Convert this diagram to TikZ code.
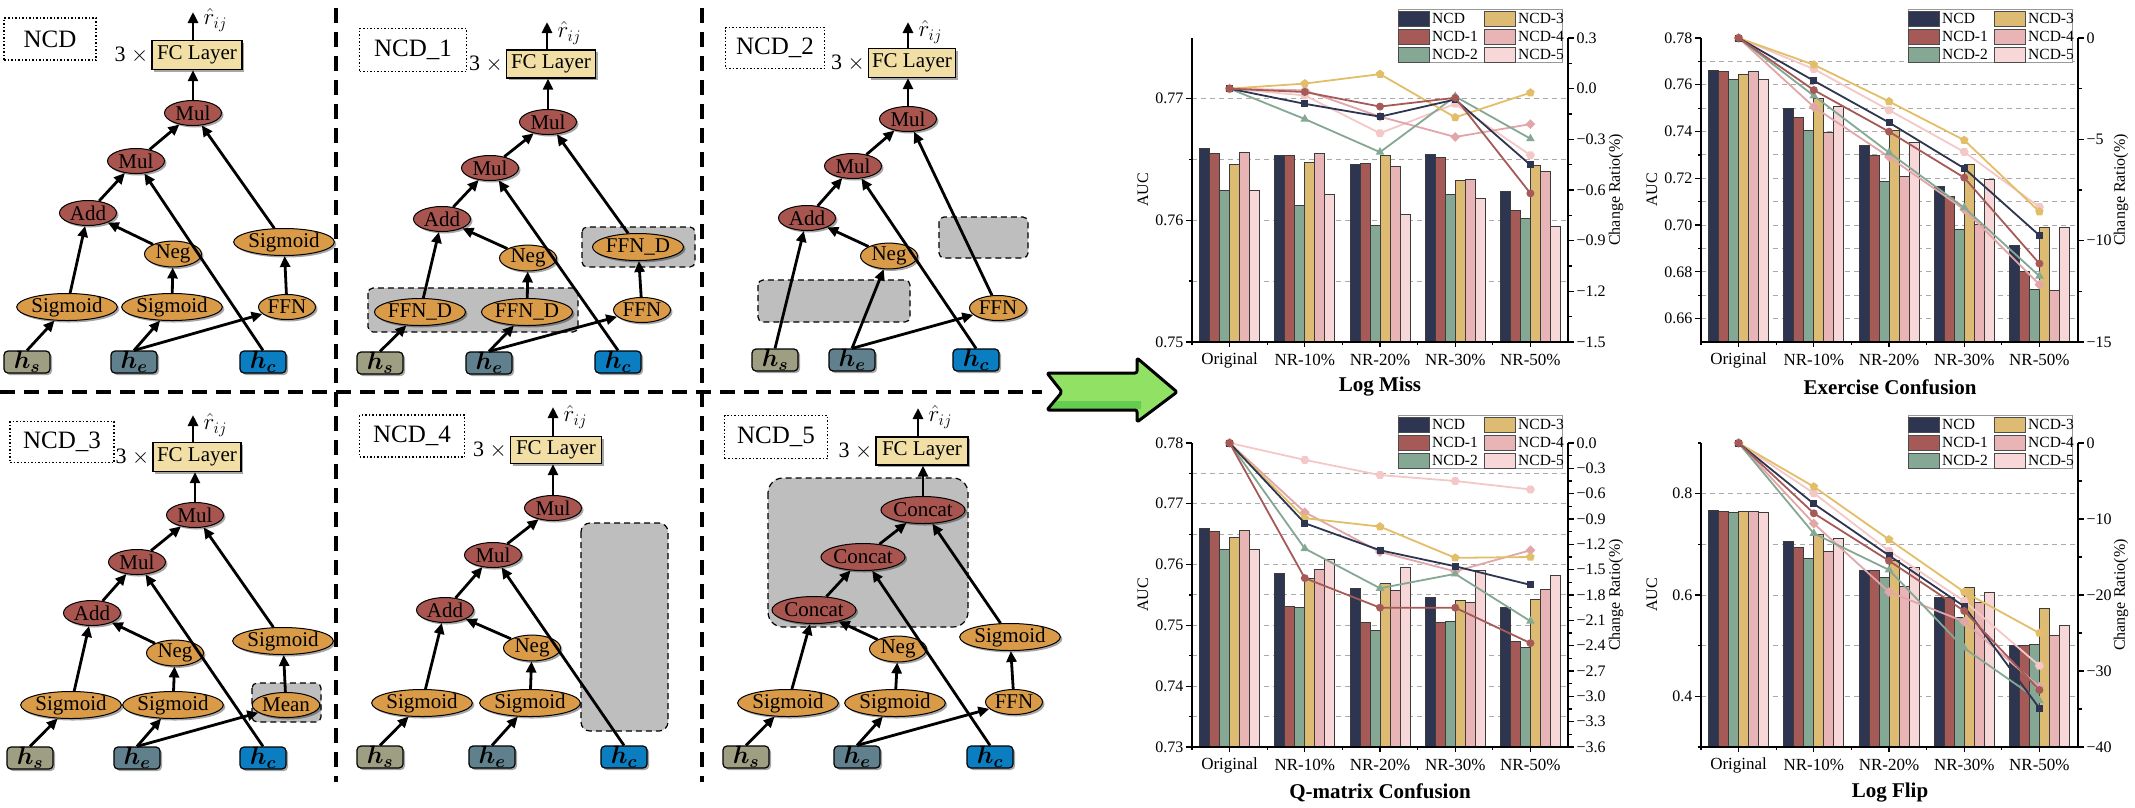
\RequirePackage{fix-cm}
\documentclass[tikz,border=0pt]{standalone}
\usepackage{fontspec}
\setmainfont{Liberation Serif}
\usepackage{bm}
\usetikzlibrary{shapes.geometric,arrows.meta,shadows}
\newcommand\fsz[1]{\fontsize{#1}{#1}\selectfont}
\definecolor{opred}{RGB}{168,85,79}
\definecolor{opor}{RGB}{217,155,72}
\definecolor{fcfill}{RGB}{241,223,165}
\definecolor{hsfill}{RGB}{158,158,130}
\definecolor{hefill}{RGB}{95,128,140}
\definecolor{hcfill}{RGB}{11,125,193}
\definecolor{gbox}{RGB}{190,190,190}
\definecolor{barc0}{RGB}{45,53,80}
\definecolor{barc1}{RGB}{165,90,87}
\definecolor{barc2}{RGB}{132,168,148}
\definecolor{barc3}{RGB}{221,187,115}
\definecolor{barc4}{RGB}{232,180,181}
\definecolor{barc5}{RGB}{247,215,215}
\definecolor{lnc3}{RGB}{227,190,105}
\definecolor{lnc4}{RGB}{226,166,170}
\definecolor{lnc5}{RGB}{245,200,200}
\definecolor{barline}{RGB}{60,60,60}
\definecolor{arrowgreen}{RGB}{145,226,100}
\definecolor{arrowdark}{RGB}{100,205,80}
\definecolor{gridgray}{RGB}{170,170,170}
\tikzset{
  shd/.style={drop shadow={shadow xshift=2pt, shadow yshift=-2pt, opacity=0.35, fill=black}},
  op/.style={ellipse, draw=black, line width=1pt, inner sep=0pt, minimum height=25pt, font=\fsz{21}, shd},
  redop/.style={op, fill=opred, minimum width=57pt},
  orop/.style={op, fill=opor, minimum width=57pt},
  wideop/.style={op, fill=opor, minimum width=91pt, minimum height=27pt},
  catop/.style={op, fill=opred, minimum width=67pt, minimum height=27pt},
  fcbox/.style={rectangle, draw=black, line width=1.3pt, fill=fcfill, minimum width=89pt, minimum height=28pt, inner sep=0pt, font=\fsz{21}, shd},
  hbox/.style={rectangle, rounded corners=4pt, draw=black, line width=1.2pt, minimum width=46pt, minimum height=22pt, inner sep=0pt, font=\fsz{25}, shd},
  hsb/.style={hbox, fill=hsfill},
  heb/.style={hbox, fill=hefill},
  hcb/.style={hbox, fill=hcfill},
  lblbox/.style={rectangle, draw=black, dotted, line width=1.5pt, inner sep=0pt, font=\fsz{25}},
  threex/.style={anchor=east, font=\fsz{22}, inner sep=3pt},
  rij/.style={font=\fsz{23}, anchor=west},
  flow/.style={line width=2.8pt, -{Triangle[length=11pt,width=10pt]}},
  gray region/.style={fill=gbox, draw=black, dash pattern=on 6pt off 4pt, line width=1.2pt, rounded corners=5pt},
  sep/.style={line width=4pt, dash pattern=on 15pt off 9pt},
  gridln/.style={draw=gridgray, line width=1pt, dash pattern=on 5pt off 4pt},
  axisln/.style={line width=1.2pt, draw=black},
  ticklab/.style={font=\fsz{16}, inner sep=2pt},
  catlab/.style={font=\fsz{17}},
  ttl/.style={font=\fsz{21}\bfseries},
  axlab/.style={font=\fsz{16}, rotate=90},
  legtext/.style={font=\fsz{15.5}, inner sep=0pt, anchor=west},
  mksq/.style={rectangle, inner sep=0pt, minimum size=7pt},
  mkci/.style={circle, inner sep=0pt, minimum size=8pt},
  mktri/.style={regular polygon, regular polygon sides=3, inner sep=0pt, minimum size=10pt},
  mkdia/.style={diamond, inner sep=0pt, minimum size=10pt},
  mkpent/.style={regular polygon, regular polygon sides=5, inner sep=0pt, minimum size=9pt},
  mkhex/.style={regular polygon, regular polygon sides=6, inner sep=0pt, minimum size=9pt},
}
\newcommand\drawbars[2]{%
  \foreach \v [count=\i from 0] in {#2} {%
    \pgfmathtruncatemacro\grp{div(\i,6)}%
    \pgfmathtruncatemacro\bnum{mod(\i,6)}%
    \filldraw[fill=barc\bnum, draw=barline, line width=0.7pt] ({cx(\grp)-30+10*\bnum},{by(\v)}) rectangle ({cx(\grp)-20+10*\bnum},#1);
  }}
\newcommand\ncdline[6]{%
  \draw[line width=1.8pt, draw=#1] ({cx(0)},{ry(0)}) -- ({cx(1)},{ry(#3)}) -- ({cx(2)},{ry(#4)}) -- ({cx(3)},{ry(#5)}) -- ({cx(4)},{ry(#6)});
  \foreach \rr [count=\k from 0] in {0,#3,#4,#5,#6} \node[#2, fill=#1] at ({cx(\k)},{ry(\rr)}) {};
}
\newcommand\ncdlegend[2]{%
  \draw[fill=white, draw=gray!80, line width=0.8pt] (#1,#2) rectangle ++(164,53);
  \foreach \nm/\ci/\col/\row in {NCD/0/0/0, NCD-1/1/0/1, NCD-2/2/0/2, NCD-3/3/1/0, NCD-4/4/1/1, NCD-5/5/1/2} {%
    \filldraw[fill=barc\ci, draw=black!70, line width=0.8pt] ({#1+86*\col},{#2+2+18*\row}) rectangle ++(31,15);
    \node[legtext] at ({#1+34+86*\col},{#2+9.5+18*\row}) {\nm};
  }}
\newcommand\xcats[1]{%
  \foreach \lab [count=\k from 0] in {Original,NR-10\%,NR-20\%,NR-30\%,NR-50\%} {%
    \draw[axisln] ({cx(\k)},#1) -- ++(0,5);
    \draw[axisln] ({cx(\k)-37.6},#1) -- ++(0,3);
    \node[catlab] at ({cx(\k)},{#1+18}) {\lab};
  }}
\begin{document}
\begin{tikzpicture}[x=1pt,y=-1pt]
\useasboundingbox (0,0) rectangle (2135,807);
\fill[white] (0,0) rectangle (2135,807);

% ---------------- separators ----------------
\draw[sep] (336,8) -- (336,782);
\draw[sep] (702,8) -- (702,782);
\draw[sep] (0,392) -- (1042,392);

% ---------------- gray regions ----------------
\path[gray region] (368,288) rectangle (578,332);
\path[gray region] (582,227) rectangle (695,267);
\path[gray region] (758,280) rectangle (910,322);
\path[gray region] (939,217) rectangle (1028,258);
\path[gray region] (252,683) rectangle (321,722);
\path[gray region, rounded corners=9pt] (581,523) rectangle (668,731);
\path[gray region, rounded corners=15pt] (768,478) rectangle (968,627);

% ---------------- Panel NCD ----------------
\node[lblbox, minimum width=92pt, minimum height=42pt] (lblA) at (50,39) {NCD};
\node[fcbox, minimum width=90pt, minimum height=29pt] (fcA) at (197,55) {FC Layer};
\node[threex] (txA) at (fcA.west) {3 $\times$};
\coordinate (oA) at (193,12);
\node[rij] (rA) at (200,20) {$\hat{r}_{ij}$};
\node[redop] (m1A) at (193,113) {Mul};
\node[redop] (m2A) at (136,161) {Mul};
\node[redop] (adA) at (88,213) {Add};
\node[orop] (ngA) at (173,254) {Neg};
\node[wideop] (srA) at (284,242) {Sigmoid};
\node[wideop] (slA) at (67,307) {Sigmoid};
\node[wideop] (smA) at (172,307) {Sigmoid};
\node[orop] (ffA) at (287,307) {FFN};
\node[hsb] (hsA) at (27,362) {$\bm{h_s}$};
\node[heb] (heA) at (134,362) {$\bm{h_e}$};
\node[hcb] (hcA) at (263,362) {$\bm{h_c}$};
\draw[flow] (hsA.north) -- (slA);
\draw[flow] (heA.north) -- (smA);
\draw[flow] (heA.north) -- (ffA);
\draw[flow] (hcA.north) -- (m2A);
\draw[flow] (slA) -- (adA);
\draw[flow] (smA) -- (ngA);
\draw[flow] (ngA) -- (adA);
\draw[flow] (adA) -- (m2A);
\draw[flow] (m2A) -- (m1A);
\draw[flow] (ffA) -- (srA);
\draw[flow] (srA) -- (m1A);
\draw[flow] (m1A.north) -- (m1A.north |- fcA.south);
\draw[flow] (fcA.north -| oA) -- (oA);

% ---------------- Panel NCD_1 ----------------
\node[lblbox, minimum width=107pt, minimum height=43pt] (lblB) at (413,50) {NCD\_1};
\node[fcbox] (fcB) at (551,64) {FC Layer};
\node[threex] (txB) at (fcB.west) {3 $\times$};
\coordinate (oB) at (547,22);
\node[rij] (rB) at (554,33) {$\hat{r}_{ij}$};
\node[redop] (m1B) at (548,122) {Mul};
\node[redop] (m2B) at (490,168) {Mul};
\node[redop] (adB) at (442,219) {Add};
\node[orop] (ngB) at (528,258) {Neg};
\node[wideop] (fdRB) at (638,247) {FFN\_D};
\node[wideop] (fdLB) at (420,312) {FFN\_D};
\node[wideop] (fdMB) at (527,312) {FFN\_D};
\node[orop] (ffB) at (642,310) {FFN};
\node[hsb] (hsB) at (380,363) {$\bm{h_s}$};
\node[heb] (heB) at (489,363) {$\bm{h_e}$};
\node[hcb] (hcB) at (618,362) {$\bm{h_c}$};
\draw[flow] (hsB.north) -- (fdLB);
\draw[flow] (heB.north) -- (fdMB);
\draw[flow] (heB.north) -- (ffB);
\draw[flow] (hcB.north) -- (m2B);
\draw[flow] (fdLB) -- (adB);
\draw[flow] (fdMB) -- (ngB);
\draw[flow] (ngB) -- (adB);
\draw[flow] (adB) -- (m2B);
\draw[flow] (m2B) -- (m1B);
\draw[flow] (ffB) -- (fdRB);
\draw[flow] (fdRB) -- (m1B);
\draw[flow] (m1B.north) -- (m1B.north |- fcB.south);
\draw[flow] (fcB.north -| oB) -- (oB);

% ---------------- Panel NCD_2 ----------------
\node[lblbox, minimum width=99pt, minimum height=41pt] (lblC) at (775,48) {NCD\_2};
\node[fcbox, minimum width=87pt, minimum height=29pt] (fcC) at (912,63) {FC Layer};
\node[threex] (txC) at (fcC.west) {3 $\times$};
\coordinate (oC) at (908,22);
\node[rij] (rC) at (915,32) {$\hat{r}_{ij}$};
\node[redop] (m1C) at (908,119) {Mul};
\node[redop] (m2C) at (853,166) {Mul};
\node[redop] (adC) at (807,218) {Add};
\node[orop] (ngC) at (889,256) {Neg};
\node[orop] (ffC) at (998,308) {FFN};
\node[hsb] (hsC) at (775,360) {$\bm{h_s}$};
\node[heb] (heC) at (852,360) {$\bm{h_e}$};
\node[hcb] (hcC) at (976,360) {$\bm{h_c}$};
\draw[flow] (hsC.north) -- (adC);
\draw[flow] (heC.north) -- (ngC);
\draw[flow] (heC.north) -- (ffC);
\draw[flow] (hcC.north) -- (m2C);
\draw[flow] (ngC) -- (adC);
\draw[flow] (adC) -- (m2C);
\draw[flow] (m2C) -- (m1C);
\draw[flow] (ffC) -- (m1C);
\draw[flow] (m1C.north) -- (m1C.north |- fcC.south);
\draw[flow] (fcC.north -| oC) -- (oC);

% ---------------- Panel NCD_3 ----------------
\node[lblbox, minimum width=104pt, minimum height=41pt] (lblD) at (62,442) {NCD\_3};
\node[fcbox, minimum width=88pt, minimum height=29pt] (fcD) at (197,457) {FC Layer};
\node[threex] (txD) at (fcD.west) {3 $\times$};
\coordinate (oD) at (193,415);
\node[rij] (rD) at (200,425) {$\hat{r}_{ij}$};
\node[redop] (m1D) at (195,515) {Mul};
\node[redop] (m2D) at (137,562) {Mul};
\node[redop] (adD) at (92,613) {Add};
\node[orop] (ngD) at (175,653) {Neg};
\node[wideop] (srD) at (283,641) {Sigmoid};
\node[wideop] (slD) at (71,705) {Sigmoid};
\node[wideop] (smD) at (173,705) {Sigmoid};
\node[orop, minimum width=58pt] (mnD) at (286,705) {Mean};
\node[hsb] (hsD) at (30,758) {$\bm{h_s}$};
\node[heb] (heD) at (137,758) {$\bm{h_e}$};
\node[hcb] (hcD) at (263,758) {$\bm{h_c}$};
\draw[flow] (hsD.north) -- (slD);
\draw[flow] (heD.north) -- (smD);
\draw[flow] (heD.north) -- (mnD);
\draw[flow] (hcD.north) -- (m2D);
\draw[flow] (slD) -- (adD);
\draw[flow] (smD) -- (ngD);
\draw[flow] (ngD) -- (adD);
\draw[flow] (adD) -- (m2D);
\draw[flow] (m2D) -- (m1D);
\draw[flow] (mnD) -- (srD);
\draw[flow] (srD) -- (m1D);
\draw[flow] (m1D.north) -- (m1D.north |- fcD.south);
\draw[flow] (fcD.north -| oD) -- (oD);

% ---------------- Panel NCD_4 ----------------
\node[lblbox, minimum width=105pt, minimum height=42pt] (lblE) at (412,436) {NCD\_4};
\node[fcbox, minimum width=91pt, minimum height=27pt] (fcE) at (556,450) {FC Layer};
\node[threex] (txE) at (fcE.west) {3 $\times$};
\coordinate (oE) at (553,407);
\node[rij] (rE) at (560,417) {$\hat{r}_{ij}$};
\node[redop] (m1E) at (553,508) {Mul};
\node[redop] (m2E) at (493,555) {Mul};
\node[redop] (adE) at (445,610) {Add};
\node[orop] (ngE) at (532,648) {Neg};
\node[wideop, minimum width=93pt] (slE) at (422,703) {Sigmoid};
\node[wideop, minimum width=93pt] (smE) at (530,703) {Sigmoid};
\node[hsb] (hsE) at (380,757) {$\bm{h_s}$};
\node[heb] (heE) at (492,757) {$\bm{h_e}$};
\node[hcb] (hcE) at (624,757) {$\bm{h_c}$};
\draw[flow] (hsE.north) -- (slE);
\draw[flow] (heE.north) -- (smE);
\draw[flow] (hcE.north) -- (m2E);
\draw[flow] (slE) -- (adE);
\draw[flow] (smE) -- (ngE);
\draw[flow] (ngE) -- (adE);
\draw[flow] (adE) -- (m2E);
\draw[flow] (m2E) -- (m1E);
\draw[flow] (m1E.north) -- (m1E.north |- fcE.south);
\draw[flow] (fcE.north -| oE) -- (oE);

% ---------------- Panel NCD_5 ----------------
\node[lblbox, minimum width=103pt, minimum height=43pt] (lblF) at (776,437) {NCD\_5};
\node[fcbox, minimum width=92pt, minimum height=28pt] (fcF) at (922,451) {FC Layer};
\node[threex] (txF) at (fcF.west) {3 $\times$};
\coordinate (oF) at (918,408);
\node[rij] (rF) at (925,417) {$\hat{r}_{ij}$};
\node[catop] (ctF) at (923,510) {Concat};
\node[catop] (cmF) at (863,557) {Concat};
\node[catop] (clF) at (814,610) {Concat};
\node[orop] (ngF) at (898,649) {Neg};
\node[wideop] (srF) at (1010,637) {Sigmoid};
\node[wideop] (slF) at (788,703) {Sigmoid};
\node[wideop] (smF) at (895,703) {Sigmoid};
\node[orop] (ffF) at (1014,702) {FFN};
\node[hsb] (hsF) at (746,757) {$\bm{h_s}$};
\node[heb] (heF) at (857,757) {$\bm{h_e}$};
\node[hcb] (hcF) at (990,757) {$\bm{h_c}$};
\draw[flow] (hsF.north) -- (slF);
\draw[flow] (heF.north) -- (smF);
\draw[flow] (heF.north) -- (ffF);
\draw[flow] (hcF.north) -- (cmF);
\draw[flow] (slF) -- (clF);
\draw[flow] (smF) -- (ngF);
\draw[flow] (ngF) -- (clF);
\draw[flow] (clF) -- (cmF);
\draw[flow] (cmF) -- (ctF);
\draw[flow] (ffF) -- (srF);
\draw[flow] (srF) -- (ctF);
\draw[flow] (ctF.north) -- (ctF.north |- fcF.south);
\draw[flow] (fcF.north -| oF) -- (oF);

% ---------------- green arrow ----------------
\fill[arrowgreen, rounded corners=2pt] (1047,373) -- (1137,373) -- (1137,358) -- (1177,392) -- (1137,422) -- (1137,410) -- (1047,410) -- (1062,392) -- cycle;
\fill[arrowdark] (1057,401) -- (1141,401) -- (1141,409) -- (1050,409) -- cycle;
\draw[line width=3pt, line join=round, rounded corners=2pt] (1047,373) -- (1137,373) -- (1137,358) -- (1177,392) -- (1137,422) -- (1137,410) -- (1047,410) -- (1062,392) -- cycle;

% ---------------- Chart 1: Log Miss ----------------
\begin{scope}[declare function={cx(\x)=1229.6+75.2*\x; by(\x)=38+(0.775-(\x))/0.025*304; ry(\x)=38+(0.3-(\x))/1.8*304;}]
  \foreach \v in {0.755,0.76,0.765,0.77} \draw[gridln] (1192,{by(\v)}) -- (1568,{by(\v)});
  \drawbars{342}{0.7659,0.7655,0.7625,0.7646,0.7656,0.7625,0.7653,0.7653,0.7612,0.7648,0.7655,0.7621,0.7646,0.7647,0.7596,0.7653,0.7644,0.7605,0.7654,0.7652,0.7621,0.7633,0.7634,0.7618,0.7624,0.7608,0.7602,0.7645,0.7640,0.7595}
  \ncdline{lnc5}{mkhex}{-0.04}{-0.264}{-0.09}{-0.394}
  \ncdline{lnc4}{mkdia}{-0.01}{-0.166}{-0.286}{-0.21}
  \ncdline{barc2}{mktri}{-0.18}{-0.376}{-0.046}{-0.296}
  \ncdline{lnc3}{mkpent}{0.03}{0.086}{-0.17}{-0.024}
  \ncdline{barc0}{mksq}{-0.09}{-0.166}{-0.064}{-0.452}
  \ncdline{barc1}{mkci}{-0.02}{-0.106}{-0.054}{-0.62}
  \draw[axisln] (1192,38) -- (1192,342) -- (1568,342) -- (1568,38);
  \foreach \v in {0.75,0.76,0.77} \draw[axisln] (1192,{by(\v)}) -- ++(-6,0) node[ticklab,anchor=east] {\v};
  \foreach \v in {0.755,0.765} \draw[axisln] (1192,{by(\v)}) -- ++(-3.5,0);
  \foreach \v/\tl in {0.3/0.3,0/0.0,-0.3/−0.3,-0.6/−0.6,-0.9/−0.9,-1.2/−1.2,-1.5/−1.5} \draw[axisln] (1568,{ry(\v)}) -- ++(6,0) node[ticklab,anchor=west] {\tl};
  \foreach \v in {0.15,-0.15,-0.45,-0.75,-1.05,-1.35} \draw[axisln] (1568,{ry(\v)}) -- ++(3.5,0);
  \xcats{342}
  \node[axlab] (auc1) at (1143,190) {AUC};
  \node[axlab] (cr1) at (1616,190) {Change Ratio(\%)};
  \node[ttl] (t1) at (1380,387) {Log Miss};
\end{scope}
\ncdlegend{1398}{9}

% ---------------- Chart 2: Exercise Confusion ----------------
\begin{scope}[declare function={cx(\x)=1738.6+75.2*\x; by(\x)=38+(0.78-(\x))/0.13*304; ry(\x)=38+(0-(\x))/15*304;}]
  \foreach \v in {0.66,0.67,0.68,0.69,0.70,0.71,0.72,0.73,0.74,0.75,0.76,0.77} \draw[gridln] (1701,{by(\v)}) -- (2078,{by(\v)});
  \drawbars{342}{0.7660,0.7656,0.7624,0.7646,0.7656,0.7624,0.7499,0.7459,0.7406,0.7541,0.7396,0.7506,0.7339,0.7300,0.7187,0.7406,0.7207,0.7353,0.7167,0.7124,0.6981,0.7260,0.7003,0.7196,0.6913,0.6803,0.6724,0.6989,0.6720,0.6989}
  \ncdline{lnc5}{mkhex}{-1.53}{-3.56}{-5.62}{-8.34}
  \ncdline{lnc4}{mkdia}{-3.40}{-5.87}{-8.46}{-12.17}
  \ncdline{barc2}{mktri}{-2.85}{-5.65}{-8.37}{-11.75}
  \ncdline{lnc3}{mkpent}{-1.32}{-3.13}{-5.04}{-8.57}
  \ncdline{barc0}{mksq}{-2.11}{-4.17}{-6.43}{-9.74}
  \ncdline{barc1}{mkci}{-2.57}{-4.62}{-6.89}{-11.13}
  \draw[axisln] (1701,38) -- (1701,342) -- (2078,342) -- (2078,38);
  \foreach \v in {0.66,0.68,0.70,0.72,0.74,0.76,0.78} \draw[axisln] (1701,{by(\v)}) -- ++(-6,0) node[ticklab,anchor=east] {\v};
  \foreach \v in {0.67,0.69,0.71,0.73,0.75,0.77} \draw[axisln] (1701,{by(\v)}) -- ++(-3.5,0);
  \foreach \v/\tl in {0/0,-5/−5,-10/−10,-15/−15} \draw[axisln] (2078,{ry(\v)}) -- ++(6,0) node[ticklab,anchor=west] {\tl};
  \foreach \v in {-2.5,-7.5,-12.5} \draw[axisln] (2078,{ry(\v)}) -- ++(3.5,0);
  \xcats{342}
  \node[axlab] (auc2) at (1652,190) {AUC};
  \node[axlab] (cr2) at (2121,190) {Change Ratio(\%)};
  \node[ttl] (t2) at (1890,387) {Exercise Confusion};
\end{scope}
\ncdlegend{1908}{9}

% ---------------- Chart 3: Q-matrix Confusion ----------------
\begin{scope}[declare function={cx(\x)=1229.6+75.2*\x; by(\x)=443+(0.78-(\x))/0.05*304; ry(\x)=443+(0-(\x))/3.6*304;}]
  \foreach \v in {0.735,0.74,0.745,0.75,0.755,0.76,0.765,0.77,0.775} \draw[gridln] (1192,{by(\v)}) -- (1568,{by(\v)});
  \drawbars{747}{0.7659,0.7654,0.7625,0.7645,0.7656,0.7625,0.7586,0.7531,0.7529,0.7577,0.7593,0.7609,0.7561,0.7505,0.7492,0.7569,0.7557,0.7595,0.7546,0.7505,0.7507,0.7542,0.7538,0.7590,0.7530,0.7474,0.7464,0.7543,0.7559,0.7583}
  \ncdline{lnc5}{mkhex}{-0.20}{-0.38}{-0.45}{-0.55}
  \ncdline{lnc4}{mkdia}{-0.82}{-1.29}{-1.52}{-1.27}
  \ncdline{barc2}{mktri}{-1.25}{-1.72}{-1.55}{-2.11}
  \ncdline{lnc3}{mkpent}{-0.89}{-0.99}{-1.36}{-1.35}
  \ncdline{barc0}{mksq}{-0.95}{-1.27}{-1.46}{-1.68}
  \ncdline{barc1}{mkci}{-1.60}{-1.95}{-1.95}{-2.37}
  \draw[axisln] (1192,443) -- (1192,747) -- (1568,747) -- (1568,443);
  \foreach \v in {0.73,0.74,0.75,0.76,0.77,0.78} \draw[axisln] (1192,{by(\v)}) -- ++(-6,0) node[ticklab,anchor=east] {\v};
  \foreach \v in {0.735,0.745,0.755,0.765,0.775} \draw[axisln] (1192,{by(\v)}) -- ++(-3.5,0);
  \foreach \v/\tl in {0/0.0,-0.3/−0.3,-0.6/−0.6,-0.9/−0.9,-1.2/−1.2,-1.5/−1.5,-1.8/−1.8,-2.1/−2.1,-2.4/−2.4,-2.7/−2.7,-3.0/−3.0,-3.3/−3.3,-3.6/−3.6} \draw[axisln] (1568,{ry(\v)}) -- ++(6,0) node[ticklab,anchor=west] {\tl};
  \foreach \v in {-0.15,-0.45,-0.75,-1.05,-1.35,-1.65,-1.95,-2.25,-2.55,-2.85,-3.15,-3.45} \draw[axisln] (1568,{ry(\v)}) -- ++(3.5,0);
  \xcats{747}
  \node[axlab] (auc3) at (1143,595) {AUC};
  \node[axlab] (cr3) at (1616,595) {Change Ratio(\%)};
  \node[ttl] (t3) at (1380,793) {Q-matrix Confusion};
\end{scope}
\ncdlegend{1398}{415}

% ---------------- Chart 4: Log Flip ----------------
\begin{scope}[declare function={cx(\x)=1738.6+75.2*\x; by(\x)=443+(0.9-(\x))/0.6*304; ry(\x)=443+(0-(\x))/40*304;}]
  \foreach \v in {0.4,0.5,0.6,0.7,0.8} \draw[gridln] (1701,{by(\v)}) -- (2078,{by(\v)});
  \drawbars{747}{0.7667,0.7660,0.7633,0.7647,0.7660,0.7633,0.7050,0.6947,0.6716,0.7204,0.6854,0.7125,0.6478,0.6478,0.6346,0.6676,0.6168,0.6551,0.5963,0.5963,0.5561,0.6155,0.5858,0.6049,0.5000,0.5000,0.5026,0.5739,0.5211,0.5396}
  \ncdline{lnc5}{mkhex}{-6.6}{-14.2}{-20.8}{-29.3}
  \ncdline{lnc4}{mkdia}{-10.6}{-19.6}{-23.5}{-32.1}
  \ncdline{barc2}{mktri}{-11.9}{-16.7}{-27.0}{-33.9}
  \ncdline{lnc3}{mkpent}{-5.75}{-12.7}{-19.6}{-25.0}
  \ncdline{barc0}{mksq}{-8.0}{-14.8}{-21.5}{-34.9}
  \ncdline{barc1}{mkci}{-9.25}{-15.5}{-22.1}{-32.5}
  \draw[axisln] (1701,443) -- (1701,747) -- (2078,747) -- (2078,443);
  \foreach \v in {0.4,0.6,0.8} \draw[axisln] (1701,{by(\v)}) -- ++(-6,0) node[ticklab,anchor=east] {\v};
  \foreach \v in {0.3,0.5,0.7,0.9} \draw[axisln] (1701,{by(\v)}) -- ++(-3.5,0);
  \foreach \v/\tl in {0/0,-10/−10,-20/−20,-30/−30,-40/−40} \draw[axisln] (2078,{ry(\v)}) -- ++(6,0) node[ticklab,anchor=west] {\tl};
  \foreach \v in {-5,-15,-25,-35} \draw[axisln] (2078,{ry(\v)}) -- ++(3.5,0);
  \xcats{747}
  \node[axlab] (auc4) at (1652,595) {AUC};
  \node[axlab] (cr4) at (2121,595) {Change Ratio(\%)};
  \node[ttl] (t4) at (1890,793) {Log Flip};
\end{scope}
\ncdlegend{1908}{415}
\end{tikzpicture}
\end{document}
